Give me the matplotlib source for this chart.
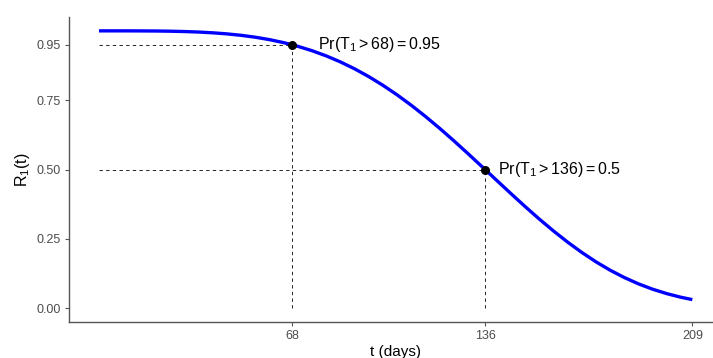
import matplotlib
matplotlib.use("Agg")
import matplotlib.pyplot as plt

plt.rcParams['font.family'] = ['Liberation Sans', 'DejaVu Sans']
plt.rcParams['mathtext.fontset'] = 'custom'
plt.rcParams['mathtext.rm'] = 'Liberation Sans'
plt.rcParams['mathtext.it'] = 'Liberation Sans:italic'
plt.rcParams['mathtext.bf'] = 'Liberation Sans:bold'

# Survival curve
t_days = [0, 5, 10, 15, 20, 25, 30, 35, 40, 45, 50, 55, 60, 65, 68, 70, 75, 80, 85,
          90, 95, 100, 105, 110, 115, 120, 125, 130, 136, 140, 145, 150, 155, 160,
          165, 170, 175, 180, 185, 190, 195, 200, 205, 209]
reliability = [1.000, 1.000, 1.000, 0.9998, 0.9995, 0.9988, 0.9976, 0.9958, 0.9930,
               0.9892, 0.9840, 0.9772, 0.9685, 0.9576, 0.950, 0.9444, 0.9286, 0.9099,
               0.8882, 0.8633, 0.8352, 0.8038, 0.7693, 0.7317, 0.6913, 0.6485, 0.6036,
               0.5571, 0.500, 0.4617, 0.4141, 0.3673, 0.3221, 0.2791, 0.2387, 0.2014,
               0.1674, 0.1371, 0.1106, 0.0877, 0.0683, 0.0523, 0.0392, 0.0308]

mark_t = [68, 136]
mark_r = [0.95, 0.5]
mark_labels = [r'$\mathrm{Pr(T_1 > 68) = 0.95}$', r'$\mathrm{Pr(T_1 > 136) = 0.5}$']
label_t = [77.2, 140.5]

x_ticks = [68, 136, 209]
y_ticks = [0.00, 0.25, 0.50, 0.75, 0.95]
y_ticklabels = ['0.00', '0.25', '0.50', '0.75', '0.95']

W, H = 713, 358
fig = plt.figure(figsize=(W / 100, H / 100), dpi=100)
ax = fig.add_axes([69.3 / W, (H - 322) / H, 652.7 / W, 305 / H])

ax.plot(t_days, reliability, color='#0000FF', lw=2.4, solid_capstyle='butt', zorder=3)

for tm, rm in zip(mark_t, mark_r):
    ax.plot([0, tm], [rm, rm], color='black', lw=0.6, ls=(0, (4, 4)), zorder=2)
    ax.plot([tm, tm], [0, rm], color='black', lw=0.6, ls=(0, (4, 4)), zorder=2)
ax.scatter(mark_t, mark_r, s=30, color='black', zorder=4)

for lt, rm, lab in zip(label_t, mark_r, mark_labels):
    ax.text(lt, rm, lab, fontsize=11.5, ha='left', va='center', color='black')

ax.set_xlim(-10.45, 219.45)
ax.set_ylim(-0.05, 1.05)
ax.set_xticks(x_ticks)
ax.set_xticklabels([str(v) for v in x_ticks])
ax.set_yticks(y_ticks)
ax.set_yticklabels(y_ticklabels)

for s in ['top', 'right']:
    ax.spines[s].set_visible(False)
for s in ['left', 'bottom']:
    ax.spines[s].set_color('#555555')
    ax.spines[s].set_linewidth(1.0)

ax.tick_params(axis='both', colors='#555555', length=3, width=0.8, labelsize=9,
               labelcolor='#4D4D4D', pad=3)

ax.set_xlabel('t (days)', fontsize=11, color='black', labelpad=2)
ax.set_ylabel(r'$\mathrm{R_1(t)}$', fontsize=11.5, color='black', labelpad=3)

fig.savefig('out.png', dpi=100)
